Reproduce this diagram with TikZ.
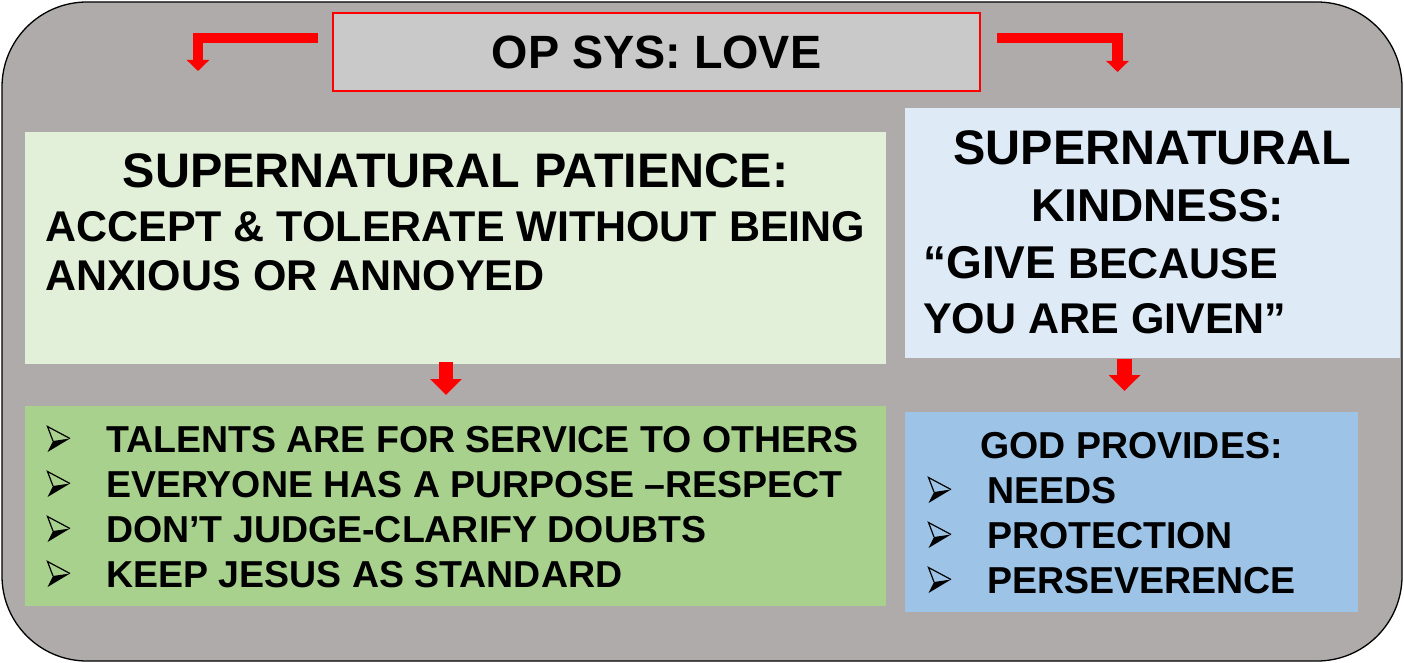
\documentclass[tikz,border=0pt]{standalone}
\usepackage{fontspec}
\setmainfont{Liberation Sans}
\usepackage{xcolor}
\usetikzlibrary{arrows.meta, positioning, calc}
\definecolor{slidegray}{RGB}{175,171,171}
\definecolor{titlegray}{RGB}{201,201,201}
\definecolor{palegreen}{HTML}{E2F0D9}
\definecolor{paleblue}{HTML}{DEEBF7}
\definecolor{midgreen}{HTML}{A9D18E}
\definecolor{midblue}{HTML}{9DC3E6}
\tikzstyle{panel} = [rectangle, anchor=north west, inner sep=0pt, outer sep=0pt]
\tikzstyle{heading} = [inner sep=0pt, anchor=base, font=\fontsize{48.5}{56}\selectfont\bfseries]
\tikzstyle{body} = [inner sep=0pt, anchor=base west, font=\fontsize{43}{50}\selectfont\bfseries]
\tikzstyle{listitem} = [inner sep=0pt, anchor=base west, font=\fontsize{37.5}{45}\selectfont\bfseries]
\tikzstyle{elbowarrow} = [red, line width=10.5pt, line join=miter, -{Triangle[width=22pt,length=11pt]}]
\tikzstyle{downarrow} = [red, line width=14.5pt, -{Triangle[width=31pt,length=16pt]}]

\begin{document}
\begin{tikzpicture}[x=1pt, y=-1pt]
    \useasboundingbox (0,0) rectangle (1404,663);
    \draw [fill=slidegray, line width=1.3pt, rounded corners=85pt] (2,2) rectangle (1402,661);

    \node (title) [panel, anchor=center, draw=red, line width=2pt, fill=titlegray, minimum width=647pt, minimum height=78pt, font=\fontsize{46.7}{52}\selectfont\bfseries] at (656.5,52) {OP SYS: LOVE};
    \node (patience) [panel, fill=palegreen, minimum width=861pt, minimum height=232pt] at (25,132) {};
    \node (kindness) [panel, fill=paleblue, minimum width=495pt, minimum height=250pt] at (905,108) {};
    \node (talents) [panel, fill=midgreen, minimum width=861pt, minimum height=200pt] at (25,406) {};
    \node (provides) [panel, fill=midblue, minimum width=453pt, minimum height=200pt] at (905,412) {};

    % patience box
    \node (patiencehead) [heading] at ([yshift=-56pt]patience.north) {SUPERNATURAL PATIENCE:};
    \node (accept) [body] at ([xshift=20pt,yshift=-109pt]patience.north west) {ACCEPT \& TOLERATE WITHOUT BEING};
    \node (anxious) [body] at ([xshift=20pt,yshift=-158pt]patience.north west) {ANXIOUS OR ANNOYED};

    % kindness box
    \node (kindhead) [heading] at ([yshift=-57pt]kindness.north) {SUPERNATURAL};
    \node (kindword) [heading, font=\fontsize{46}{56}\selectfont\bfseries] at ([xshift=5pt,yshift=-113.5pt]kindness.north) {KINDNESS:};
    \node (give) [body] at ([xshift=18pt,yshift=-170pt]kindness.north west) {{\fontsize{46}{52}\selectfont “GIVE} BECAUSE};
    \node (given) [body] at ([xshift=18pt,yshift=-225pt]kindness.north west) {YOU ARE GIVEN”};

    % lists
    \node (talent) [listitem] at ([xshift=81pt,yshift=-46pt]talents.north west) {TALENTS ARE FOR SERVICE TO OTHERS};
    \node (everyone) [listitem] at ([xshift=81pt,yshift=-91pt]talents.north west) {EVERYONE HAS A PURPOSE –RESPECT};
    \node (judge) [listitem] at ([xshift=81pt,yshift=-136pt]talents.north west) {DON’T JUDGE-CLARIFY DOUBTS};
    \node (jesus) [listitem] at ([xshift=81pt,yshift=-181pt]talents.north west) {KEEP JESUS AS STANDARD};

    \node (godhead) [listitem, anchor=base] at ([yshift=-46pt]provides.north) {GOD PROVIDES:};
    \node (needs) [listitem] at ([xshift=82pt,yshift=-91pt]provides.north west) {NEEDS};
    \node (protection) [listitem] at ([xshift=82pt,yshift=-136pt]provides.north west) {PROTECTION};
    \node (persever) [listitem] at ([xshift=82pt,yshift=-181pt]provides.north west) {PERSEVERENCE};

    % arrowhead bullets
    \foreach \n in {talent,everyone,judge,jesus,needs,protection,persever} {
        \begin{scope}[shift={(\n.base west)}]
            \fill (-53,-11) -- (-36,-13.5) -- (-58.5,0) -- cycle;
            \draw [line width=1.2pt, line join=miter] (-53,-11) -- (-58.5,-25.5) -- (-36,-13.5);
        \end{scope}
    }

    % arrows
    \coordinate (leftdrop) at ([xshift=173pt,yshift=61pt]patience.north west);
    \coordinate (rightdrop) at ([xshift=212.5pt,yshift=36pt]kindness.north west);
    \draw [elbowarrow] ([xshift=-15pt,yshift=14pt]title.west) -| (leftdrop);
    \draw [elbowarrow] ([xshift=17pt,yshift=14pt]title.east) -| (rightdrop);
    \draw [downarrow] ([xshift=-9.5pt,yshift=2pt]patience.south) -- ([xshift=-9.5pt,yshift=11pt]talents.north);
    \draw [downarrow] ([xshift=-28pt,yshift=-1pt]kindness.south) -- ([xshift=-7pt,yshift=21pt]provides.north);
\end{tikzpicture}
\end{document}
